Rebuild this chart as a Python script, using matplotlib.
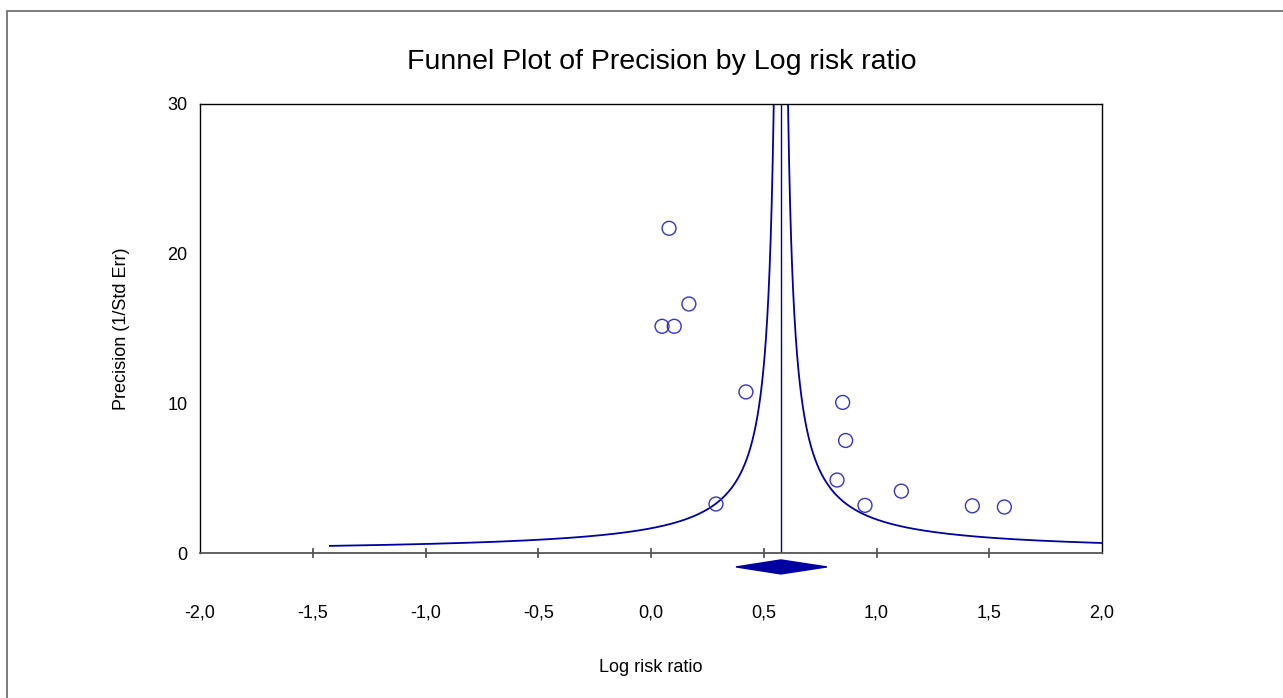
import matplotlib
matplotlib.use("Agg")
import matplotlib.pyplot as plt
import numpy as np
from matplotlib.patches import Rectangle, Polygon

plt.rcParams['font.family'] = ['Liberation Sans', 'DejaVu Sans']

# Data
log_rr = [0.080, 0.168, 0.049, 0.103, 0.421, 0.850, 0.863, 0.825, 0.949, 1.110, 0.288, 1.425, 1.567]
precision = [21.67, 16.62, 15.13, 15.13, 10.75, 10.05, 7.51, 4.87, 3.18, 4.13, 3.27, 3.15, 3.07]
combined = 0.576
ci_low, ci_high = 0.377, 0.780
funnel_k = 0.95
xticks = [-2.0, -1.5, -1.0, -0.5, 0.0, 0.5, 1.0, 1.5, 2.0]
xtick_labels = ["-2,0", "-1,5", "-1,0", "-0,5", "0,0", "0,5", "1,0", "1,5", "2,0"]
yticks = [0, 10, 20, 30]
ytick_labels = ["0", "10", "20", "30"]

W, H = 1283, 698
fig = plt.figure(figsize=(W / 100, H / 100), dpi=100)
fig.patch.set_facecolor('white')

# outer border
fig.add_artist(Rectangle((7 / W, -0.1), 1.2, 1 - 11 / H + 0.1, transform=fig.transFigure,
                         fill=False, edgecolor='#666666', linewidth=1.2))

ax = fig.add_axes([200 / W, 1 - 553 / H, 902 / W, 449.5 / H])
ax.set_xlim(-2, 2)
ax.set_ylim(0, 30)

line_col = '#0000A0'
pmin = funnel_k / (combined + 1.424)
p = np.linspace(pmin, 30, 4000)
ax.plot(combined - funnel_k / p, p, color=line_col, lw=1.3)
ax.plot(combined + funnel_k / p, p, color=line_col, lw=1.3)
ax.plot([combined, combined], [0, 30], color=line_col, lw=1.0)

ax.scatter(log_rr, precision, s=100, facecolors='none', edgecolors='#3434C8', linewidths=1.0, zorder=5)

# diamond below the axis
dy = 7 / 14.98
yc = -0.93
diamond = Polygon([[ci_low, yc], [combined, yc + dy], [ci_high, yc], [combined, yc - dy]],
                  closed=True, facecolor=line_col, edgecolor=line_col, clip_on=False)
ax.add_patch(diamond)

for s in ['left', 'top', 'right']:
    ax.spines[s].set_color('black')
    ax.spines[s].set_linewidth(1.0)
ax.spines['bottom'].set_color('#555555')
ax.spines['bottom'].set_linewidth(1.3)

ax.set_xticks(xticks)
ax.set_xticklabels(xtick_labels, fontsize=13)
ax.set_yticks(yticks)
ax.set_yticklabels(ytick_labels, fontsize=13)
ax.tick_params(axis='y', length=0, pad=9)
ax.tick_params(axis='x', length=0, pad=37)
# tick marks crossing the x axis (except the ends)
for xv in xticks[1:-1]:
    ax.plot([xv, xv], [-0.25, 0.25], color='#555555', lw=1.3, clip_on=False, zorder=6)

ax.set_xlabel("Log risk ratio", fontsize=13, labelpad=27)
ax.set_ylabel("Precision (1/Std Err)", fontsize=13, labelpad=27)
fig.text(662 / W, 1 - 62 / H, "Funnel Plot of Precision by Log risk ratio", fontsize=20.5,
         ha='center', va='center')

fig.savefig("out.png", dpi=100)
